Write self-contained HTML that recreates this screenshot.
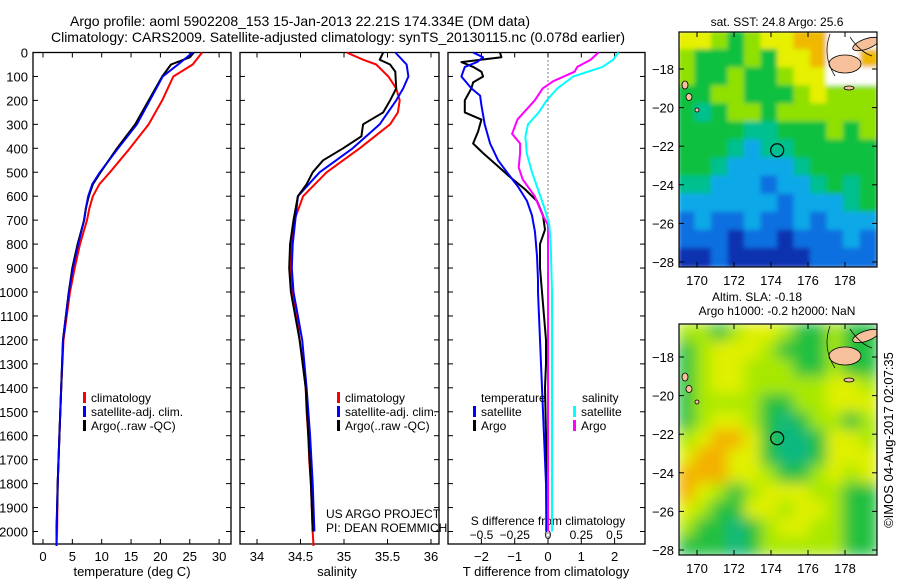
<!DOCTYPE html>
<html><head><meta charset="utf-8">
<style>
body{margin:0;background:#fff;}
svg{display:block;font-family:"Liberation Sans",sans-serif;}
</style></head>
<body>
<svg id="c" width="900" height="580" xmlns="http://www.w3.org/2000/svg">
<defs>
<filter id="blur1"><feGaussianBlur stdDeviation="2.5"/></filter>
<filter id="blur2"><feGaussianBlur stdDeviation="7"/></filter>
<clipPath id="clipTop"><rect x="679" y="32" width="198" height="235"/></clipPath>
<clipPath id="clipBot"><rect x="679" y="324" width="198" height="231"/></clipPath>
</defs>
<g font-size="14" text-anchor="middle" fill="#000">
<text x="300" y="26">Argo profile: aoml 5902208_153 15-Jan-2013 22.21S 174.334E (DM data)</text>
<text x="338" y="42">Climatology: CARS2009. Satellite-adjusted climatology: synTS_20130115.nc (0.078d earlier)</text>
</g>
<g id="panels"></g>
<g id="maps"></g>
<text transform="translate(893,440) rotate(-90)" font-size="13" text-anchor="middle">©IMOS 04-Aug-2017 02:07:35</text>
</svg>
<script>
// ---------- data ----------
const tempDepths = [0,50,100,200,300,400,500,550,600,650,700,800,900,1000,1200,1400,1600,1800,2000,2060];
const tempClim   = [27.1,25.5,22.2,20.3,18.0,14.8,11.4,9.6,8.5,7.9,7.5,6.3,5.4,4.6,3.5,3.1,2.8,2.5,2.4,2.3];
const tempSat    = [25.5,23.0,20.4,18.2,16.0,12.8,9.7,8.4,7.7,7.3,7.0,6.0,5.1,4.4,3.4,3.1,2.8,2.5,2.3,2.3];
const tempArgoD  = [0,20,50,100,200,300,400,500,550,600,650,700,800,900,1000,1200,1400,1600,1800,2000];
const tempArgo   = [25.7,25.0,21.8,20.3,18.0,15.7,12.6,9.8,8.5,7.8,7.3,7.0,5.9,5.0,4.4,3.4,3.1,2.8,2.5,2.3];

const salDepths = [0,30,50,100,150,200,250,300,400,500,600,700,800,900,1000,1100,1200,1300,1400,1500,1600,1700,1800,1900,2000,2060];
const salClim   = [35.03,35.22,35.37,35.51,35.60,35.64,35.62,35.53,35.18,34.80,34.53,34.43,34.40,34.39,34.41,34.46,34.49,34.53,34.56,34.57,34.59,34.60,34.62,34.63,34.64,34.65];
const salSatD   = [0,50,100,150,200,300,400,500,600,700,800,900,1000,1100,1200,1400,1600,1800,2000];
const salSat    = [35.59,35.72,35.74,35.68,35.60,35.41,35.10,34.72,34.47,34.44,34.41,34.40,34.42,34.47,34.52,34.57,34.61,34.64,34.66];
const salArgoD  = [0,30,50,80,150,200,250,300,350,400,450,500,550,600,700,800,900,1000,1200,1400,1600,1800,2000];
const salArgo   = [35.45,35.41,35.53,35.59,35.60,35.53,35.45,35.22,35.20,34.99,34.76,34.64,34.57,34.47,34.42,34.38,34.37,34.39,34.49,34.56,34.59,34.62,34.64];

const dTArgoD = [0,20,40,60,80,100,125,150,200,250,280,330,380,420,470,520,570,620,680,740,800,900,1000,1100,1200,1300,1400,1600,1800,2000];
const dTArgo  = [-1.44,-1.4,-2.6,-2.25,-2.0,-1.95,-2.25,-2.3,-2.5,-2.5,-2.0,-2.1,-2.25,-1.95,-1.54,-1.14,-0.7,-0.33,-0.15,-0.09,-0.24,-0.24,-0.18,-0.12,-0.06,-0.06,-0.09,-0.06,-0.05,-0.05];
const dTSatD  = [0,20,40,60,100,150,180,220,300,380,450,500,560,620,680,750,850,950,1000,1200,1400,1600,1800,2000];
const dTSat   = [-2.25,-1.95,-2.13,-2.5,-2.6,-2.3,-2.04,-2.0,-1.9,-1.74,-1.5,-1.23,-0.9,-0.63,-0.48,-0.39,-0.33,-0.3,-0.3,-0.24,-0.18,-0.12,-0.06,-0.04];
const dSArgoD = [0,30,60,80,120,150,200,280,340,380,420,480,530,600,680,720,800,1000,1500,2000];
const dSArgo  = [0.38,0.32,0.22,0.2,0.04,-0.04,-0.1,-0.23,-0.27,-0.21,-0.21,-0.22,-0.19,-0.1,-0.04,0.0,0.0,0.0,0.0,0.0];
const dSSatD  = [0,30,60,100,150,200,250,300,350,420,500,580,660,720,800,1000,1500,2000];
const dSSat   = [0.53,0.49,0.41,0.19,0.07,-0.01,-0.07,-0.15,-0.17,-0.16,-0.12,-0.07,-0.02,0.01,0.02,0.03,0.03,0.03];

const depthTicks = [0,100,200,300,400,500,600,700,800,900,1000,1100,1200,1300,1400,1500,1600,1700,1800,1900,2000];
const tempTicks = [0,5,10,15,20,25,30];
const salTicks = [34,34.5,35,35.5,36];
const salTickLabels = ["34","34.5","35","35.5","36"];
const dTTicks = [-2,-1,0,1,2];
const dSTicks = [-0.5,-0.25,0,0.25,0.5];
const dSTickLabels = ["\u22120.5","\u22120.25","0","0.25","0.5"];
const latTicks = [-18,-20,-22,-24,-26,-28];
const lonTicks = [170,172,174,176,178];
const argoLat = -22.21;
const argoLon = 174.334;

// ---------- helpers ----------
const NS="http://www.w3.org/2000/svg";
const P=document.getElementById('panels');
const M=document.getElementById('maps');
function mk(tag,attrs,parent){const e=document.createElementNS(NS,tag);for(const k in attrs)e.setAttribute(k,attrs[k]);(parent||P).appendChild(e);return e;}
function txt(x,y,s,size,anchor,parent){const t=mk('text',{x:x,y:y,'font-size':size,'text-anchor':anchor||'middle'},parent);t.textContent=s;return t;}

const TOP=52.5, BOT=544;
const yD=d=>TOP+d*0.2395;
const xT=v=>43+v*5.87;
const xS=v=>257+(v-34)*87;
const xDT=v=>548+v*33.3;
const xDS=v=>548+v*133;

function frame(x0,x1,name){
  const r=mk('rect',{x:x0,y:TOP,width:x1-x0,height:BOT-TOP,fill:'none',stroke:'#000','stroke-width':1.3});
  
  
  depthTicks.forEach(d=>{
    mk('line',{x1:x0,x2:x0+5,y1:yD(d),y2:yD(d),stroke:'#000'});
    mk('line',{x1:x1,x2:x1-5,y1:yD(d),y2:yD(d),stroke:'#000'});
  });
}
function xticks(vals,labels,fx,labelY,name){
  vals.forEach((v,i)=>{
    const x=fx(v);
    mk('line',{x1:x,x2:x,y1:BOT,y2:BOT-5,stroke:'#000'});
    mk('line',{x1:x,x2:x,y1:TOP,y2:TOP+5,stroke:'#000'});
    const t=txt(x,labelY,labels[i],13);
    
    
  });
}
function line(ds,vs,fx,color,name,w){
  const pts=ds.map((d,i)=>fx(vs[i]).toFixed(1)+','+yD(d).toFixed(1)).join(' ');
  const pl=mk('polyline',{points:pts,fill:'none',stroke:color,'stroke-width':w||2,'stroke-linejoin':'round'});
  
  
}
function legendEntry(x,y,color,label,name){
  mk('rect',{x:x,y:y-10,width:3,height:11,fill:color});
  const t=txt(x+8,y,label,12,'start');
  
  
}

depthTicks.forEach(d=>{
  const t=txt(28,yD(d)+5,String(d),13,'end');
  
  
});

// panel 1 temperature
frame(33,231,'temperature-panel');
xticks(tempTicks,tempTicks.map(String),xT,561,'temperature');
let t1=txt(132,576,'temperature (deg C)',13);


line(tempDepths,tempClim,xT,'#ff0000','temp-climatology-line');
line(tempDepths,tempSat,xT,'#0000ff','temp-satellite-line');
line(tempArgoD,tempArgo,xT,'#000000','temp-argo-line');
line(tempDepths,tempSat,xT,'#0000ff','temp-satellite-line-over',1.5);
legendEntry(83,402,'#ff0000','climatology','legend-climatology');
legendEntry(83,416,'#0000ff','satellite-adj. clim.','legend-satellite');
legendEntry(83,430,'#000000','Argo(..raw -QC)','legend-argo');

// panel 2 salinity
frame(240,439,'salinity-panel');
xticks(salTicks,salTickLabels,xS,561,'salinity');
let t2=txt(337,576,'salinity',13);


line(salDepths,salClim,xS,'#ff0000','sal-climatology-line');
line(salSatD,salSat,xS,'#0000ff','sal-satellite-line');
line(salArgoD,salArgo,xS,'#000000','sal-argo-line');
legendEntry(337,402,'#ff0000','climatology','legend-climatology-2');
legendEntry(337,416,'#0000ff','satellite-adj. clim.','legend-satellite-2');
legendEntry(337,430,'#000000','Argo(..raw -QC)','legend-argo-2');
let c1=txt(326,518,'US ARGO PROJECT',12,'start');


let c2=txt(326,532,'PI: DEAN ROEMMICH',12,'start');



// panel 3 differences
frame(448,645,'difference-panel');
mk('line',{x1:548,x2:548,y1:TOP,y2:BOT,stroke:'#000','stroke-dasharray':'1,3'});
xticks(dTTicks,dTTicks.map(v=>v<0?'\u2212'+(-v):String(v)),xDT,561,'t-diff');
dSTicks.forEach((v,i)=>{
  const t=txt(xDS(v),539,dSTickLabels[i],12);
  
  
});
let t3=txt(548,525,'S difference from climatology',12);


let t4=txt(546,576,'T difference from climatology',13);


line(dTArgoD,dTArgo,xDT,'#000000','tdiff-argo-line');
line(dTSatD,dTSat,xDT,'#0000ff','tdiff-satellite-line');
line(dSArgoD,dSArgo,xDS,'#ff00ff','sdiff-argo-line');
line(dSSatD,dSSat,xDS,'#00ffff','sdiff-satellite-line');
let lt=txt(481,402,'temperature',12,'start');


let ls=txt(582,402,'salinity',12,'start');


legendEntry(473,416,'#0000ff','satellite','legend-tdiff-satellite');
legendEntry(473,430,'#000000','Argo','legend-tdiff-argo');
legendEntry(573,416,'#00ffff','satellite','legend-sdiff-satellite');
legendEntry(573,430,'#ff00ff','Argo','legend-sdiff-argo');

// ---------- maps ----------
const COL1={Y:'#e6f000',L:'#90e000',G:'#10c040',T:'#00c090',C:'#10a8e8',B:'#1070e0',D:'#1030b0',O:'#f0b800',W:'#ffffff'};
const COL2={Y:'#e0f000',L:'#a8e800',G:'#20c040',T:'#10b880',O:'#f4b000'};
const sstGrid=[
"YYLGLYYOOWWW",
"LGGGLGYYOWWO",
"LGGLGGLYYWWW",
"GGLLGGGLYLLL",
"GTGLLGLLLLLL",
"GGGGTTGGGLGL",
"GGGTCTTGGGGG",
"GGTCCCCTGGGG",
"TTCCCBCCTGTG",
"CCCCCCBCCCTG",
"BCBBCBBCBCCC",
"BBBDBBDBBBCB",
"DDBDDDDDBBBB"];
const slaGrid=[
"LLGLYYLGGLGG",
"GLYYYLGGGLGG",
"GLYYLLLGGLGG",
"GLYYLLLLLYYL",
"GLLLLGGLLYYY",
"GLYYLGTGLLGL",
"LYOOYGTTGYYL",
"YOOYYGTTGYYY",
"OOOYYLGGLYLY",
"OYLGLYYYLLGG",
"YLGGYYLYYLGG",
"LGGTGLYYLLGG",
"GGGTGLLLLLGG"];
function drawMap(grid,COL,y0,h,lat18,clip,filter,name){
  const g=mk('g',{'clip-path':'url(#'+clip+')'},M);
  
  
  const inner=mk('g',{filter:'url(#'+filter+')'},g);
  const cw=198/12, ch=h/13;
  grid.forEach((row,r)=>{for(let c=0;c<row.length;c++){
    mk('rect',{x:679+c*cw-1,y:y0+r*ch-1,width:cw+2,height:ch+2,fill:COL[row[c]]},inner);
  }});
  const land='#f5c09a';
  mk('ellipse',{cx:845,cy:y0+32,rx:16,ry:9,fill:land,stroke:'#000','stroke-width':0.8},g);
  mk('ellipse',{cx:866,cy:y0+12,rx:14,ry:5,fill:land,stroke:'#000','stroke-width':0.8,transform:'rotate(-20 866 '+(y0+12)+')'},g);
  mk('ellipse',{cx:849,cy:y0+56,rx:5,ry:2,fill:land,stroke:'#000','stroke-width':0.8},g);
  mk('path',{d:'M830 '+(y0+2)+' Q822 '+(y0+24)+' 835 '+(y0+44)+' M850 '+(y0+5)+' Q860 '+(y0+20)+' 872 '+(y0+24),fill:'none',stroke:'#000','stroke-width':0.7},g);
  mk('ellipse',{cx:685,cy:y0+53,rx:3,ry:4,fill:land,stroke:'#000','stroke-width':0.8},g);
  mk('ellipse',{cx:689,cy:y0+65,rx:3,ry:3.5,fill:land,stroke:'#000','stroke-width':0.8},g);
  mk('ellipse',{cx:697,cy:y0+78,rx:2,ry:2,fill:land,stroke:'#000','stroke-width':0.8},g);
  mk('rect',{x:679,y:y0,width:198,height:h,fill:'none',stroke:'#000','stroke-width':1.2},M);
  const yLat=lat=>lat18+(-18-lat)*19.3;
  const xLon=lon=>697+(lon-170)*18.5;
  const circ=mk('circle',{cx:xLon(argoLon),cy:yLat(argoLat),r:6.5,fill:'none',stroke:'#000','stroke-width':1.2},M);
  
  
  latTicks.forEach(l=>{
    const y=yLat(l);
    mk('line',{x1:679,x2:684,y1:y,y2:y,stroke:'#000'},M);
    mk('line',{x1:877,x2:872,y1:y,y2:y,stroke:'#000'},M);
    const t=txt(674,y+5,'\u2212'+(-l),13,'end',M);
    
    
  });
  lonTicks.forEach(l=>{
    const x=xLon(l);
    mk('line',{x1:x,x2:x,y1:y0,y2:y0+5,stroke:'#000'},M);
    mk('line',{x1:x,x2:x,y1:y0+h,y2:y0+h-5,stroke:'#000'},M);
    const t=txt(x,y0+h+18,String(l),13,'middle',M);
    
    
  });
}
drawMap(sstGrid,COL1,32,235,69,'clipTop','blur1','sst-map');
drawMap(slaGrid,COL2,324,231,357,'clipBot','blur2','sla-map');
let m1=txt(777,26,'sat. SST: 24.8  Argo: 25.6',12,'middle',M);


let m2=txt(757,301,'Altim. SLA: -0.18',12,'middle',M);


let m3=txt(777,315,'Argo h1000: -0.2 h2000: NaN',12,'middle',M);


</script>
</body></html>
